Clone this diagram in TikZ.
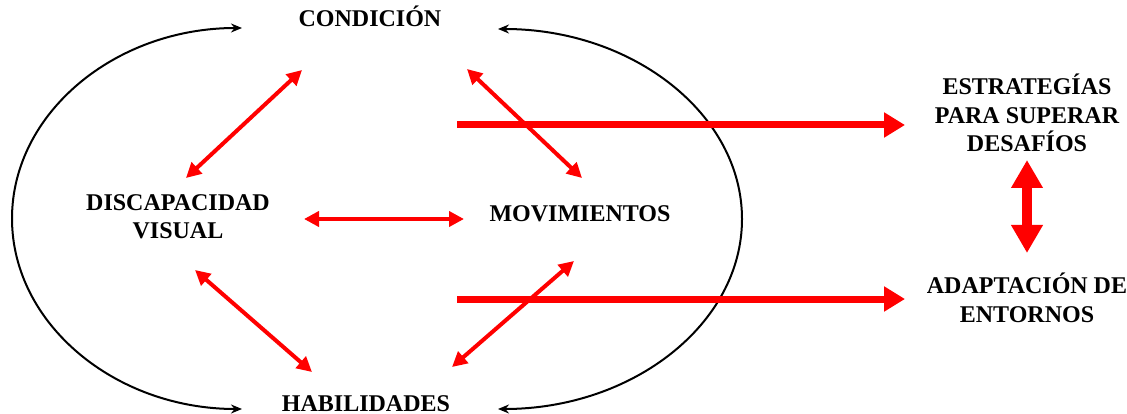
\documentclass[tikz,border=0pt]{standalone}
\usepackage{fontspec}
\setmainfont{Liberation Serif}
\usetikzlibrary{arrows.meta}
\begin{document}
\begin{tikzpicture}[x=1pt,y=-1pt,
  lbl/.style={font=\fontsize{24}{28.5}\selectfont\bfseries, align=center, inner sep=0pt, anchor=base},
  redthin/.style={draw=red, line width=4pt, {Triangle[length=15pt,width=15pt]}-{Triangle[length=15pt,width=15pt]}},
  redthick/.style={draw=red, line width=7pt, -{Triangle[length=21pt,width=24pt]}},
  redvert/.style={draw=red, line width=10pt, {Triangle[length=28pt,width=30pt]}-{Triangle[length=28pt,width=30pt]}},
  blackcurve/.style={draw=black, line width=2pt, {Stealth[length=11pt,width=9pt]}-{Stealth[length=11pt,width=9pt]}}
]
\useasboundingbox (0,0) rectangle (1127,414);

% labels (base = baseline of last line)
\node[lbl] (cond) at (370,27) {CONDICIÓN};
\node[lbl] (disc) at (178,239) {DISCAPACIDAD\\VISUAL};
\node[lbl] (mov) at (580,222) {MOVIMIENTOS};
\node[lbl] (hab) at (366,411) {HABILIDADES};
\node[lbl] (estr) at (1027,152) {ESTRATEGÍAS\\PARA SUPERAR\\DESAFÍOS};
\node[lbl] (adap) at (1027,322) {ADAPTACIÓN DE\\ENTORNOS};

% endpoints
\coordinate (c1) at (302,70);
\coordinate (d1) at (186,178);
\coordinate (c2) at (467,69);
\coordinate (m1) at (582,178);
\coordinate (d2) at (304,219);
\coordinate (m2) at (464,219);
\coordinate (d3) at (195,270);
\coordinate (h1) at (312,372);
\coordinate (m3) at (574,261);
\coordinate (h2) at (452,367);
\coordinate (t1s) at (457,125);
\coordinate (t1e) at (905,125);
\coordinate (t2s) at (457,299);
\coordinate (t2e) at (905,299);
\coordinate (vt) at (1027,160);
\coordinate (vb) at (1027,253);
\coordinate (lt) at (242,28);
\coordinate (rt) at (498,29);

% black curves
\draw[blackcurve] (lt) arc[start angle=270, end angle=90, x radius=230, y radius=190.5];
\draw[blackcurve] (rt) arc[start angle=270, end angle=450, x radius=244, y radius=190];

% red arrows
\draw[redthin] (c1) -- (d1);
\draw[redthin] (c2) -- (m1);
\draw[redthin] (d2) -- (m2);
\draw[redthin] (d3) -- (h1);
\draw[redthin] (m3) -- (h2);
\draw[redthick] (t1s) -- (t1e);
\draw[redthick] (t2s) -- (t2e);
\draw[redvert] (vt) -- (vb);
\end{tikzpicture}
\end{document}
